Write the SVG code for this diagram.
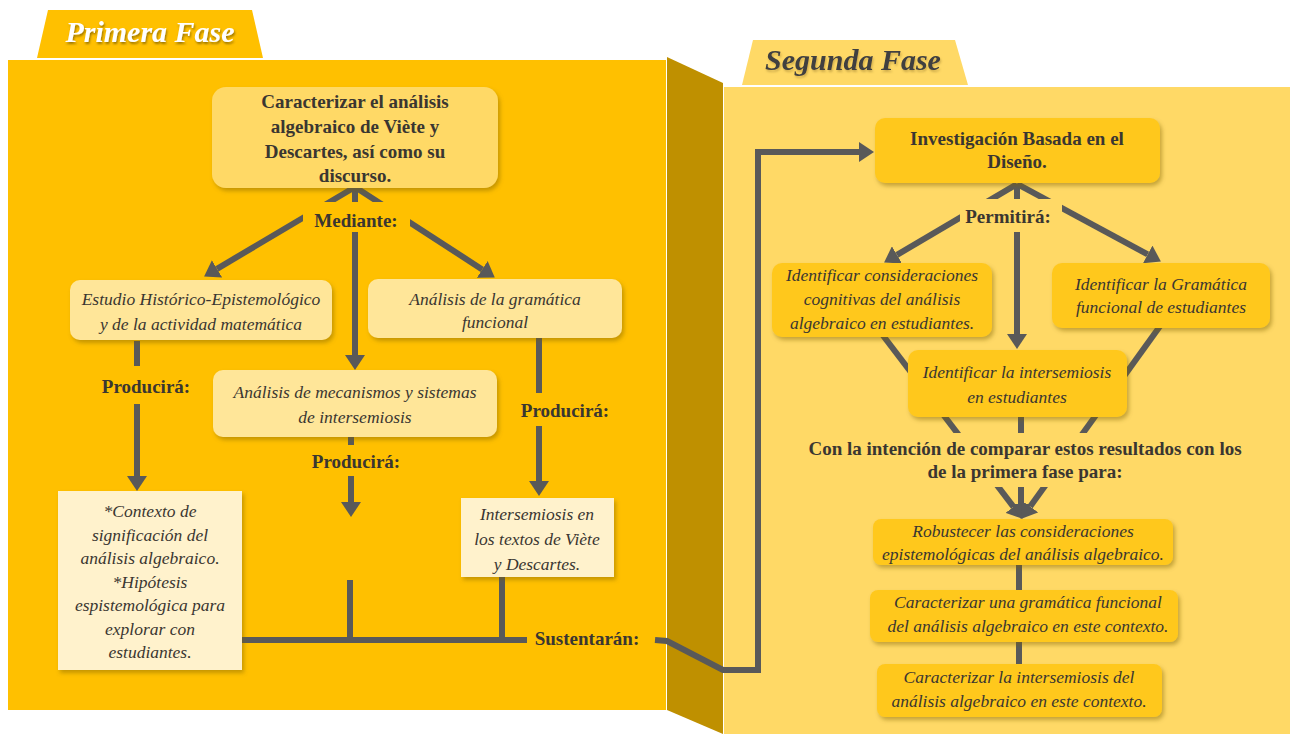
<svg xmlns="http://www.w3.org/2000/svg" width="1290" height="734" viewBox="0 0 1290 734">
  <defs>
    <style>
      .t { font-family: "Liberation Serif", "Times New Roman", serif; fill: #3A3631; text-anchor: middle; }
      .hb { font-size: 19px; font-weight: bold; }
      .it { font-size: 17.5px; font-style: italic; }
      .cn { fill: none; stroke: #595959; stroke-width: 6; stroke-linejoin: miter; }
      .ar { marker-end: url(#head); }
      .bx1 { fill: #FFD966; }
      .bx2 { fill: #FFE699; }
      .bx3 { fill: #FFF2CC; }
      .bx4 { fill: #FFC81F; }
      .ttl { font-family: "Liberation Serif", "Times New Roman", serif; font-size: 30px; font-weight: bold; font-style: italic; text-anchor: middle; }
    </style>
    <marker id="head" viewBox="0 0 15 20" refX="0" refY="10" markerWidth="15" markerHeight="20" markerUnits="userSpaceOnUse" orient="auto">
      <path d="M0,0 L15,10 L0,20 Z" fill="#595959"/>
    </marker>
    <filter id="sh" x="-10%" y="-10%" width="125%" height="140%">
      <feDropShadow dx="2" dy="3" stdDeviation="2" flood-color="#7F6000" flood-opacity="0.45"/>
    </filter>
    <filter id="tsh" x="-10%" y="-20%" width="120%" height="150%">
      <feDropShadow dx="1" dy="2" stdDeviation="1" flood-color="#5A4500" flood-opacity="0.6"/>
    </filter>
    <filter id="tsh2" x="-10%" y="-20%" width="120%" height="150%">
      <feDropShadow dx="1" dy="2" stdDeviation="1" flood-color="#A08030" flood-opacity="0.5"/>
    </filter>
  </defs>

  <rect width="1290" height="734" fill="#FFFFFF"/>

  <!-- panels -->
  <g id="panels">
    <polygon points="48,10 252,10 263,58 37,58" fill="#FFC000"/>
    <rect x="8" y="60" width="658" height="650" fill="#FFC000"/>
    <polygon points="667,57 723,83 723,734 667,710" fill="#BF9000"/>
    <polygon points="753,40 955,40 968,85 742,85" fill="#FFD966"/>
    <rect x="724" y="87" width="566" height="647" fill="#FFD966"/>
    <text class="ttl" x="150" y="42" fill="#FFFFFF" filter="url(#tsh)">Primera Fase</text>
    <text class="ttl" x="853" y="70" fill="#3F3F3F" filter="url(#tsh2)">Segunda Fase</text>
  </g>

  <!-- connectors -->
  <g id="connectors">
    <!-- first phase: from "Mediante" -->
    <line class="cn ar" x1="355" y1="187" x2="217" y2="268.8"/>
    <line class="cn ar" x1="355" y1="187" x2="355" y2="355"/>
    <line class="cn ar" x1="355" y1="187" x2="482.2" y2="269.4"/>
    <!-- Producirá -->
    <line class="cn ar" x1="137" y1="341" x2="137" y2="476"/>
    <line class="cn ar" x1="351" y1="437" x2="351" y2="502"/>
    <line class="cn ar" x1="539" y1="338" x2="539" y2="481"/>
    <!-- Sustentarán -->
    <line class="cn" x1="350" y1="580" x2="350" y2="640"/>
    <line class="cn" x1="502" y1="577" x2="502" y2="640"/>
    <line class="cn" x1="242" y1="640" x2="527" y2="640"/>
    <polyline class="cn ar" points="655,640 667,641 723,670 758,670 758,152 859,152"/>
    <!-- second phase: from "Permitirá" -->
    <line class="cn ar" x1="1017" y1="184" x2="897" y2="254.9"/>
    <line class="cn ar" x1="1017" y1="184" x2="1017" y2="334"/>
    <line class="cn ar" x1="1017" y1="184" x2="1147.7" y2="254.4"/>
    <!-- converging into the results -->
    <line class="cn ar" x1="875" y1="325" x2="1013.5" y2="506.9"/>
    <line class="cn ar" x1="1021" y1="410" x2="1021" y2="504"/>
    <line class="cn ar" x1="1163" y1="322" x2="1030.2" y2="506.6"/>
    <line class="cn" x1="1019" y1="565" x2="1019" y2="590"/>
    <line class="cn" x1="1019" y1="642" x2="1019" y2="664"/>
  </g>

  <!-- connector labels -->
  <g id="labels">
    <rect x="303" y="202" width="107" height="30" fill="#FFC000"/>
    <text class="t hb" x="356" y="227">Mediante:</text>
    <rect x="98" y="366" width="98" height="38" fill="#FFC000"/>
    <text class="t hb" x="146" y="393">Producirá:</text>
    <rect x="306" y="445" width="100" height="31" fill="#FFC000"/>
    <text class="t hb" x="356" y="468">Producirá:</text>
    <rect x="517" y="393" width="96" height="33" fill="#FFC000"/>
    <text class="t hb" x="565" y="417">Producirá:</text>
    <text class="t hb" x="587" y="645">Sustentarán:</text>
    <rect x="960" y="199" width="102" height="33" fill="#FFD966"/>
    <text class="t hb" x="1008" y="223">Permitirá:</text>
    <rect x="795" y="433" width="460" height="54" fill="#FFD966"/>
    <text class="t hb" x="1025" y="455">Con la intención de comparar estos resultados con los</text>
    <text class="t hb" x="1025" y="478">de la primera fase para:</text>
  </g>

  <!-- first phase nodes -->
  <g id="objetivo">
    <rect class="bx1" x="212" y="87" width="286" height="101" rx="14" filter="url(#sh)"/>
    <text class="t hb" x="355" y="108">Caracterizar el análisis</text>
    <text class="t hb" x="355" y="133">algebraico de Viète y</text>
    <text class="t hb" x="355" y="158">Descartes, así como su</text>
    <text class="t hb" x="355" y="182">discurso.</text>
  </g>
  <g id="estudio">
    <rect class="bx2" x="70" y="280" width="262" height="60" rx="10" filter="url(#sh)"/>
    <text class="t it" x="201" y="305">Estudio Histórico-Epistemológico</text>
    <text class="t it" x="201" y="330">y de la actividad matemática</text>
  </g>
  <g id="gramatica">
    <rect class="bx2" x="368" y="279" width="254" height="59" rx="10" filter="url(#sh)"/>
    <text class="t it" x="495" y="305">Análisis de la gramática</text>
    <text class="t it" x="495" y="328">funcional</text>
  </g>
  <g id="mecanismos">
    <rect class="bx2" x="213" y="370" width="284" height="67" rx="10" filter="url(#sh)"/>
    <text class="t it" x="355" y="398">Análisis de mecanismos y sistemas</text>
    <text class="t it" x="355" y="423">de intersemiosis</text>
  </g>
  <g id="contexto">
    <rect class="bx3" x="58" y="491" width="184" height="179" filter="url(#sh)"/>
    <text class="t it" x="150" y="517">*Contexto de</text>
    <text class="t it" x="150" y="540.5">significación del</text>
    <text class="t it" x="150" y="564">análisis algebraico.</text>
    <text class="t it" x="150" y="587.5">*Hipótesis</text>
    <text class="t it" x="150" y="611">espistemológica para</text>
    <text class="t it" x="150" y="634.5">explorar con</text>
    <text class="t it" x="150" y="658">estudiantes.</text>
  </g>
  <g id="intersemiosis-textos">
    <rect class="bx3" x="461" y="498" width="153" height="79" filter="url(#sh)"/>
    <text class="t it" x="537" y="520">Intersemiosis en</text>
    <text class="t it" x="537" y="545">los textos de Viète</text>
    <text class="t it" x="537" y="570">y Descartes.</text>
  </g>

  <!-- second phase nodes -->
  <g id="ibd">
    <rect class="bx4" x="875" y="118" width="285" height="65" rx="10" filter="url(#sh)"/>
    <text class="t hb" x="1017" y="145">Investigación Basada en el</text>
    <text class="t hb" x="1017" y="168">Diseño.</text>
  </g>
  <g id="cognitivas">
    <rect class="bx4" x="772" y="263" width="220" height="74" rx="10" filter="url(#sh)"/>
    <text class="t it" x="882" y="281">Identificar consideraciones</text>
    <text class="t it" x="882" y="305">cognitivas del análisis</text>
    <text class="t it" x="882" y="329">algebraico en estudiantes.</text>
  </g>
  <g id="gramatica-estudiantes">
    <rect class="bx4" x="1052" y="263" width="218" height="65" rx="10" filter="url(#sh)"/>
    <text class="t it" x="1161" y="290">Identificar la Gramática</text>
    <text class="t it" x="1161" y="313">funcional de estudiantes</text>
  </g>
  <g id="intersemiosis-estudiantes">
    <rect class="bx4" x="908" y="350" width="219" height="67" rx="10" filter="url(#sh)"/>
    <text class="t it" x="1017" y="378">Identificar la intersemiosis</text>
    <text class="t it" x="1017" y="403">en estudiantes</text>
  </g>
  <g id="robustecer">
    <rect class="bx4" x="873" y="519" width="300" height="46" rx="8" filter="url(#sh)"/>
    <text class="t it" x="1023" y="537">Robustecer las consideraciones</text>
    <text class="t it" x="1023" y="560">epistemológicas del análisis algebraico.</text>
  </g>
  <g id="caracterizar-gramatica">
    <rect class="bx4" x="870" y="590" width="308" height="52" rx="8" filter="url(#sh)"/>
    <text class="t it" x="1028" y="608">Caracterizar una gramática funcional</text>
    <text class="t it" x="1028" y="632">del análisis algebraico en este contexto.</text>
  </g>
  <g id="caracterizar-intersemiosis">
    <rect class="bx4" x="877" y="664" width="285" height="53" rx="8" filter="url(#sh)"/>
    <text class="t it" x="1019" y="683">Caracterizar la intersemiosis del</text>
    <text class="t it" x="1019" y="707">análisis algebraico en este contexto.</text>
  </g>
</svg>
